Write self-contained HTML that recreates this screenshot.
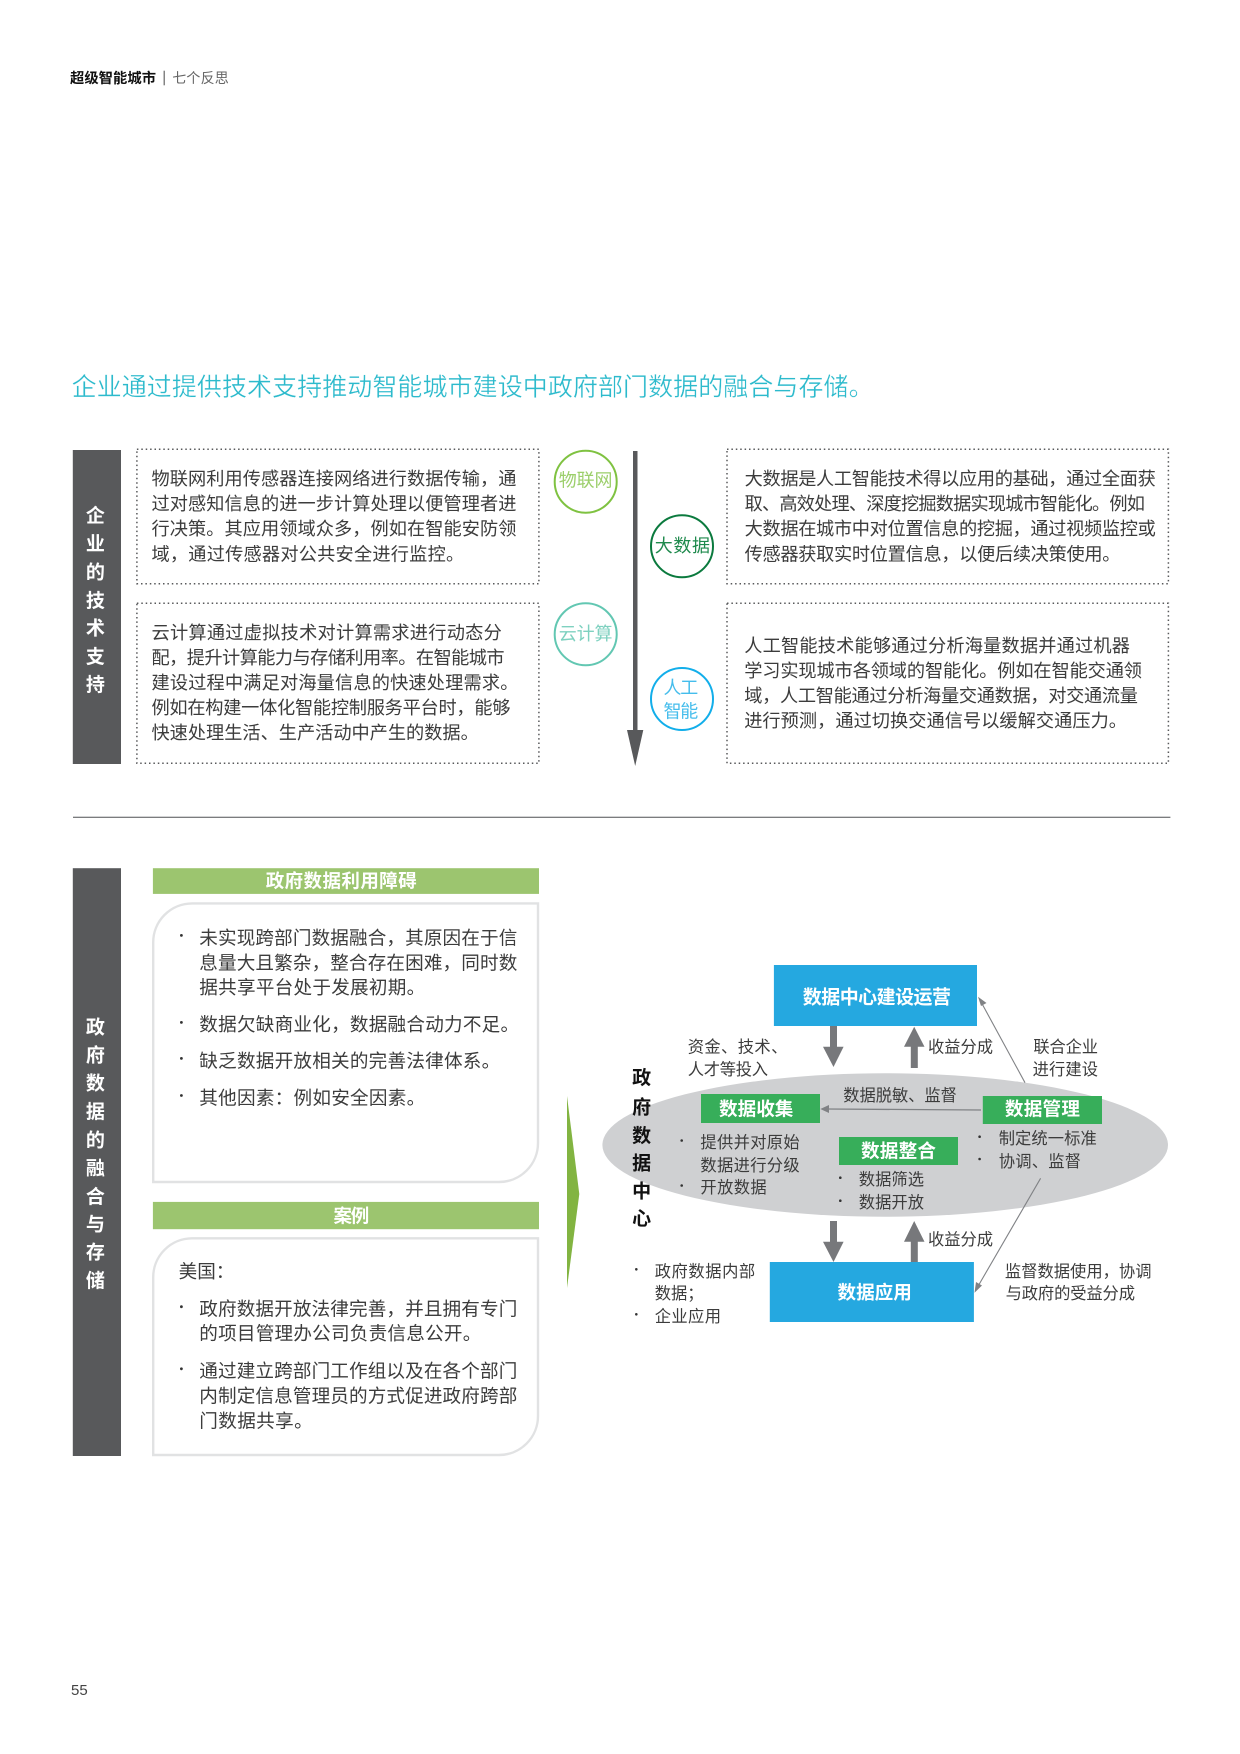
<!DOCTYPE html>
<html lang="zh"><head><meta charset="utf-8"><title>超级智能城市</title>
<style>
html,body{margin:0;padding:0;background:#fff}
svg{display:block}
text{font-family:"Liberation Sans","Noto Sans CJK SC",sans-serif}
.b{font-size:18.2px;fill:#3c3c3c}
.l{font-size:18.6px;fill:#3c3c3c}
.s{font-size:16.3px;fill:#3c3c3c}
.v{font-size:19px;font-weight:700;fill:#fff;text-anchor:middle}
.k{font-size:19px;font-weight:700;fill:#111;text-anchor:middle}
.g{font-size:18.6px;font-weight:700;fill:#fff}
.d{font-size:16px;fill:#333;text-anchor:middle}
</style></head><body>
<svg xmlns="http://www.w3.org/2000/svg" width="1240" height="1754" viewBox="0 0 1240 1754">
<rect width="1240" height="1754" fill="#fff"/>

<text x="70" y="83" font-size="14.3" font-weight="700" fill="#111" textLength="86" lengthAdjust="spacing">超级智能城市</text>
<rect x="163.6" y="70.7" width="1.2" height="14.6" fill="#666"/>
<text x="172.3" y="83" font-size="14" fill="#666" textLength="56.4" lengthAdjust="spacing">七个反思</text>

<text x="71.6" y="395.5" font-size="25" fill="#2cbacc" stroke="#fff" stroke-width="0.3" textLength="802" lengthAdjust="spacing">企业通过提供技术支持推动智能城市建设中政府部门数据的融合与存储。</text>

<rect x="72.8" y="450" width="48.2" height="314" fill="#58595b"/>
<text class="v" x="95.4" y="522">企</text>
<text class="v" x="95.4" y="550">业</text>
<text class="v" x="95.4" y="578.5">的</text>
<text class="v" x="95.4" y="607">技</text>
<text class="v" x="95.4" y="634.5">术</text>
<text class="v" x="95.4" y="663">支</text>
<text class="v" x="95.4" y="691">持</text>

<g fill="none" stroke="#58595b" stroke-width="1.5" stroke-dasharray="1.5 2.9">
<rect x="136.9" y="449.3" width="402" height="134.4"/>
<rect x="136.9" y="603.3" width="402" height="160"/>
<rect x="727" y="449.3" width="441.4" height="134.4"/>
<rect x="727" y="603.3" width="441.4" height="160"/>
</g>

<g lengthAdjust="spacing">
<text class="b" x="151.5" y="484.8" textLength="364.9">物联网利用传感器连接网络进行数据传输，通</text>
<text class="b" x="151.5" y="510.2" textLength="364.9">过对感知信息的进一步计算处理以便管理者进</text>
<text class="b" x="151.5" y="535.2" textLength="364.9">行决策。其应用领域众多，例如在智能安防领</text>
<text class="b" x="151.5" y="560.5" textLength="312.7">域，通过传感器对公共安全进行监控。</text>

<text class="b" x="151.5" y="639.2" textLength="350.3">云计算通过虚拟技术对计算需求进行动态分</text>
<text class="b" x="151.5" y="663.8" textLength="353.1">配，提升计算能力与存储利用率。在智能城市</text>
<text class="b" x="151.5" y="689.2" textLength="366.9">建设过程中满足对海量信息的快速处理需求。</text>
<text class="b" x="151.5" y="714.2" textLength="359">例如在构建一体化智能控制服务平台时，能够</text>
<text class="b" x="151.5" y="739.2" textLength="327.3">快速处理生活、生产活动中产生的数据。</text>

<text class="b" x="744.6" y="484.8" textLength="411.2">大数据是人工智能技术得以应用的基础，通过全面获</text>
<text class="b" x="744.6" y="510.2" textLength="400.4">取、高效处理、深度挖掘数据实现城市智能化。例如</text>
<text class="b" x="744.6" y="535.2" textLength="411.2">大数据在城市中对位置信息的挖掘，通过视频监控或</text>
<text class="b" x="744.6" y="560.5" textLength="375.9">传感器获取实时位置信息，以便后续决策使用。</text>

<text class="b" x="744.2" y="651.8" textLength="385.8">人工智能技术能够通过分析海量数据并通过机器</text>
<text class="b" x="744.2" y="676.8" textLength="397.8">学习实现城市各领域的智能化。例如在智能交通领</text>
<text class="b" x="744.2" y="701.8" textLength="393.8">域，人工智能通过分析海量交通数据，对交通流量</text>
<text class="b" x="744.2" y="726.8" textLength="382.8">进行预测，通过切换交通信号以缓解交通压力。</text>
</g>

<rect x="633" y="451" width="4.5" height="280" fill="#58595b"/>
<polygon points="627,730 643.3,730 635.2,766" fill="#58595b"/>

<circle cx="585.7" cy="481.7" r="31" fill="#fff" stroke="#7fc241" stroke-width="2"/>
<circle cx="585.7" cy="634.3" r="31" fill="#fff" stroke="#62c7b2" stroke-width="2"/>
<circle cx="682" cy="546.3" r="31" fill="#fff" stroke="#0b7a3e" stroke-width="2"/>
<circle cx="682" cy="699" r="31" fill="#fff" stroke="#12aeea" stroke-width="2"/>
<text x="558.8" y="486.5" font-size="18" fill="#9ccf6b" textLength="53.7" lengthAdjust="spacing">物联网</text>
<text x="558.8" y="639.8" font-size="18" fill="#7fd1c0" textLength="53.7" lengthAdjust="spacing">云计算</text>
<text x="654.8" y="552.2" font-size="18" fill="#1f8a4d" textLength="55.2" lengthAdjust="spacing">大数据</text>
<text x="663.5" y="694.2" font-size="18" fill="#45bdec" textLength="34.8" lengthAdjust="spacing">人工</text>
<text x="663.5" y="717.5" font-size="18" fill="#45bdec" textLength="34.8" lengthAdjust="spacing">智能</text>

<rect x="73" y="816.7" width="1097.4" height="1.2" fill="#6d6e71"/>

<rect x="72.8" y="868.2" width="48.2" height="587.8" fill="#58595b"/>
<text class="v" x="95.4" y="1033.7">政</text>
<text class="v" x="95.4" y="1061.4">府</text>
<text class="v" x="95.4" y="1089.5">数</text>
<text class="v" x="95.4" y="1118">据</text>
<text class="v" x="95.4" y="1146.4">的</text>
<text class="v" x="95.4" y="1174.5">融</text>
<text class="v" x="95.4" y="1203">合</text>
<text class="v" x="95.4" y="1230.6">与</text>
<text class="v" x="95.4" y="1258.3">存</text>
<text class="v" x="95.4" y="1286.8">储</text>

<rect x="152.9" y="868.2" width="386.1" height="25.7" fill="#9cc56f"/>
<text x="265.7" y="887.6" font-size="18.5" font-weight="700" fill="#fff" textLength="151" lengthAdjust="spacing">政府数据利用障碍</text>
<rect x="152.9" y="1201.9" width="386.1" height="27.3" fill="#9cc56f"/>
<text x="333.5" y="1222.4" font-size="18.5" font-weight="700" fill="#fff" textLength="35.8" lengthAdjust="spacing">案例</text>

<path d="M192 903.4H538V1143a39 39 0 0 1-39 39H153.2V942.4a39 39 0 0 1 38.8-39z" fill="#fff" stroke="#e1e2e3" stroke-width="2.4"/>
<path d="M192 1238.3H538V1416a39 39 0 0 1-39 39H153.2V1277.3a39 39 0 0 1 38.8-39z" fill="#fff" stroke="#e1e2e3" stroke-width="2.4"/>

<g fill="#333">
<circle cx="181.4" cy="935.4" r="1.4"/><circle cx="181.4" cy="1022.4" r="1.4"/><circle cx="181.4" cy="1058.4" r="1.4"/><circle cx="181.4" cy="1095.5" r="1.4"/>
<circle cx="181.4" cy="1306.7" r="1.4"/><circle cx="181.4" cy="1368.8" r="1.4"/>
</g>
<text class="l" x="199.3" y="944.5" textLength="318">未实现跨部门数据融合，其原因在于信</text>
<text class="l" x="199.3" y="969.4" textLength="318">息量大且繁杂，整合存在困难，同时数</text>
<text class="l" x="199.3" y="993.9" textLength="225.9">据共享平台处于发展初期。</text>
<text class="l" x="199.3" y="1031.1" textLength="319.8">数据欠缺商业化，数据融合动力不足。</text>
<text class="l" x="199.3" y="1067.4" textLength="300.9">缺乏数据开放相关的完善法律体系。</text>
<text class="l" x="199.3" y="1104.6" textLength="225.9">其他因素：例如安全因素。</text>
<text class="l" x="178.6" y="1278.2" textLength="55.8">美国：</text>
<text class="l" x="199.3" y="1315.4" textLength="318">政府数据开放法律完善，并且拥有专门</text>
<text class="l" x="199.3" y="1339.9" textLength="282">的项目管理办公司负责信息公开。</text>
<text class="l" x="199.3" y="1377.4" textLength="318">通过建立跨部门工作组以及在各个部门</text>
<text class="l" x="199.3" y="1402.3" textLength="318">内制定信息管理员的方式促进政府跨部</text>
<text class="l" x="199.3" y="1427.3" textLength="113.4">门数据共享。</text>

<polygon points="567,1096 579.3,1194 567,1288" fill="#82b441"/>

<ellipse cx="885.2" cy="1145" rx="282.8" ry="71.7" fill="#cfd0d2"/>
<rect x="773.9" y="965" width="203.1" height="61" fill="#25a8e0"/>
<rect x="769.8" y="1262" width="204.1" height="60" fill="#25a8e0"/>
<rect x="701" y="1094" width="119" height="29" fill="#37ae5a"/>
<rect x="982.8" y="1096" width="119.2" height="28" fill="#37ae5a"/>
<rect x="839" y="1137" width="119" height="28" fill="#37ae5a"/>

<g fill="#77787b">
<polygon points="830,1026 837,1026 837,1046.7 843.6,1046.7 833.5,1067 823,1046.7 830,1046.7"/>
<polygon points="914.2,1026.7 924.5,1046.7 917.8,1046.7 917.8,1068 910.8,1068 910.8,1046.7 904,1046.7"/>
<polygon points="830,1221 837,1221 837,1241.7 843.6,1241.7 833.5,1262 823,1241.7 830,1241.7"/>
<polygon points="914.2,1221 924.5,1241.7 917.8,1241.7 917.8,1262 910.8,1262 910.8,1241.7 904,1241.7"/>
</g>
<g stroke="#808285" stroke-width="1.1" fill="#808285">
<line x1="1025" y1="1082.7" x2="980" y2="1000"/>
<polygon points="978,996.7 986.5,1003 981,1006" stroke="none"/>
<line x1="1040.6" y1="1178.3" x2="977" y2="1288"/>
<polygon points="974.5,1292.7 976,1282 982,1285.5" stroke="none"/>
<line x1="981" y1="1110" x2="826" y2="1109" stroke-width="1.3"/>
<polygon points="820.3,1109 829,1105 829,1113" stroke="none"/>
</g>

<text x="802.8" y="1003.7" font-size="19" font-weight="700" fill="#fff" textLength="148.2" lengthAdjust="spacing">数据中心建设运营</text>
<text x="837.5" y="1299" font-size="18.6" font-weight="700" fill="#fff" textLength="74.3" lengthAdjust="spacing">数据应用</text>
<text class="g" x="719" y="1115.4" textLength="74.4">数据收集</text>
<text class="g" x="1004.9" y="1115.7" textLength="75.1">数据管理</text>
<text class="g" x="861" y="1157.7" textLength="75">数据整合</text>

<text class="k" x="641.6" y="1084">政</text>
<text class="k" x="641.6" y="1113.7">府</text>
<text class="k" x="641.6" y="1142">数</text>
<text class="k" x="641.6" y="1169.7">据</text>
<text class="k" x="641.6" y="1197.7">中</text>
<text class="k" x="641.6" y="1225">心</text>

<text class="s" x="687.7" y="1052.6" textLength="99.7">资金、技术、</text>
<text class="s" x="687.7" y="1074.9" textLength="80.3">人才等投入</text>
<text class="s" x="928" y="1052.6" textLength="65">收益分成</text>
<text class="s" x="1033.4" y="1052.6" textLength="64.6">联合企业</text>
<text class="s" x="1032.6" y="1075.2" textLength="65.4">进行建设</text>
<text class="s" x="843.3" y="1101.2" textLength="113.6">数据脱敏、监督</text>
<text class="s" x="700.4" y="1148.2" textLength="99.3">提供并对原始</text>
<text class="s" x="700.4" y="1170.9" textLength="99.3">数据进行分级</text>
<text class="s" x="700.4" y="1193.2" textLength="66.3">开放数据</text>
<text class="s" x="998.7" y="1144.2" textLength="98.1">制定统一标准</text>
<text class="s" x="998.7" y="1166.9" textLength="82.3">协调、监督</text>
<text class="s" x="858.8" y="1185.2" textLength="65.2">数据筛选</text>
<text class="s" x="858.8" y="1208.2" textLength="65.2">数据开放</text>
<text class="s" x="928" y="1245.2" textLength="65">收益分成</text>
<text class="s" x="654.7" y="1277.2" textLength="100.5">政府数据内部</text>
<text class="s" x="654.7" y="1299.2" textLength="48.9">数据；</text>
<text class="s" x="654.7" y="1321.9" textLength="66.3">企业应用</text>
<text class="s" x="1004.9" y="1277.2" textLength="146.6">监督数据使用，协调</text>
<text class="s" x="1005.6" y="1299.2" textLength="129.4">与政府的受益分成</text>
<g fill="#333">
<circle cx="681.7" cy="1140.5" r="1.3"/><circle cx="681.7" cy="1185.5" r="1.3"/>
<circle cx="979.6" cy="1136.7" r="1.3"/><circle cx="979.6" cy="1159" r="1.3"/>
<circle cx="840.3" cy="1177.7" r="1.3"/><circle cx="840.3" cy="1200.7" r="1.3"/>
<circle cx="636.3" cy="1269.3" r="1.3"/><circle cx="636.3" cy="1314.3" r="1.3"/>
</g>

<text x="71" y="1694.8" font-size="15" fill="#444">55</text>
</svg>
</body></html>
